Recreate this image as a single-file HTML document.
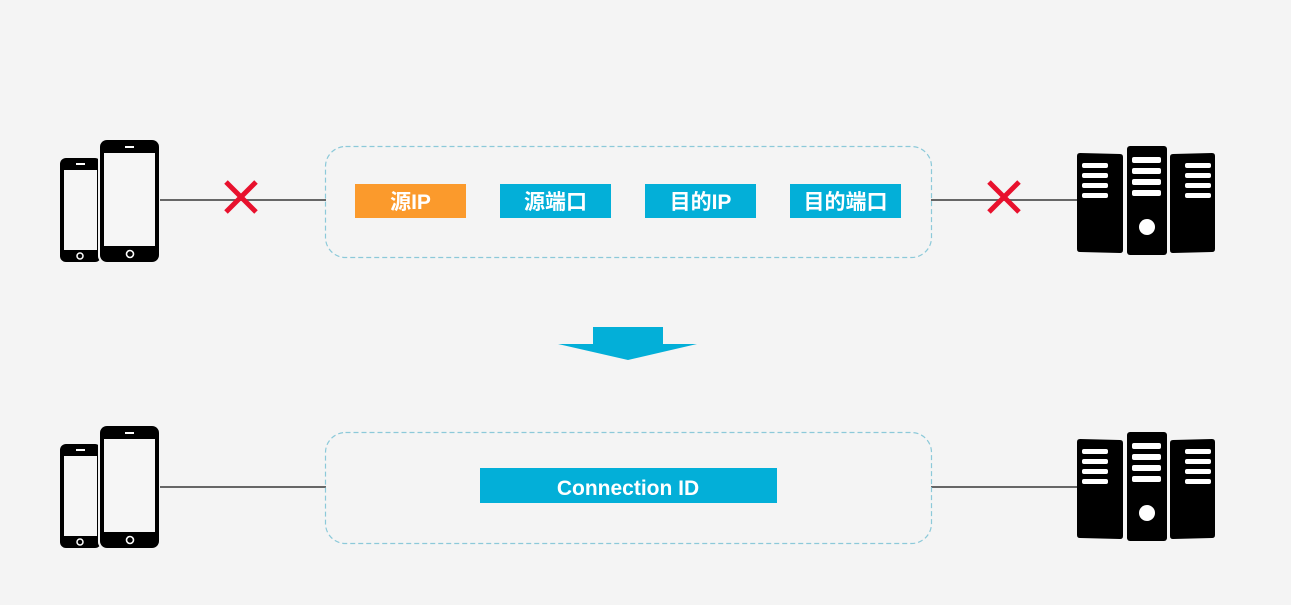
<!DOCTYPE html>
<html><head><meta charset="utf-8"><style>
html,body{margin:0;padding:0;background:#f4f4f4;}
svg{display:block}
text{font-family:"Liberation Sans","Noto Sans CJK SC",sans-serif;fill:#fff;font-weight:bold}
</style></head><body>
<svg width="1291" height="605" viewBox="0 0 1291 605" xmlns="http://www.w3.org/2000/svg">
<defs>
<g id="phones">
  <rect x="60" y="158" width="41" height="104" rx="6" fill="#000"/>
  <rect x="64" y="170" width="33" height="80" fill="#f6f6f6"/>
  <rect x="76" y="163" width="9" height="2" fill="#fff"/>
  <circle cx="80" cy="256" r="3" fill="none" stroke="#fff" stroke-width="1.5"/>
  <rect x="98" y="140" width="62" height="123" rx="7" fill="#f4f4f4"/>
  <rect x="100" y="140" width="59" height="122" rx="7" fill="#000"/>
  <rect x="104" y="153" width="51" height="93" fill="#f6f6f6"/>
  <rect x="125" y="146" width="9" height="2" fill="#fff"/>
  <circle cx="130" cy="254" r="3.5" fill="none" stroke="#fff" stroke-width="1.6"/>
</g>
<g id="servers">
  <path d="M1077 156 Q1077 153 1080 153 L1120 154 Q1123 154 1123 157 L1123 250 Q1123 253 1120 253 L1080 252 Q1077 252 1077 249 Z" fill="#000"/>
  <rect x="1127" y="146" width="40" height="109" rx="3" fill="#000"/>
  <path d="M1170 157 Q1170 154 1173 154 L1212 153 Q1215 153 1215 156 L1215 249 Q1215 252 1212 252 L1173 253 Q1170 253 1170 250 Z" fill="#000"/>
  <g fill="#fff">
    <rect x="1082" y="163" width="26" height="5" rx="2"/>
    <rect x="1082" y="173" width="26" height="5" rx="2"/>
    <rect x="1082" y="183" width="26" height="5" rx="2"/>
    <rect x="1082" y="193" width="26" height="5" rx="2"/>
    <rect x="1132" y="157" width="29" height="6" rx="2"/>
    <rect x="1132" y="168" width="29" height="6" rx="2"/>
    <rect x="1132" y="179" width="29" height="6" rx="2"/>
    <rect x="1132" y="190" width="29" height="6" rx="2"/>
    <circle cx="1147" cy="227" r="8"/>
    <rect x="1185" y="163" width="26" height="5" rx="2"/>
    <rect x="1185" y="173" width="26" height="5" rx="2"/>
    <rect x="1185" y="183" width="26" height="5" rx="2"/>
    <rect x="1185" y="193" width="26" height="5" rx="2"/>
  </g>
</g>
</defs>

<!-- top row -->
<line x1="158" y1="200" x2="326" y2="200" stroke="#666" stroke-width="2"/>
<line x1="931" y1="200" x2="1078" y2="200" stroke="#666" stroke-width="2"/>
<use href="#phones"/>
<use href="#servers"/>
<rect x="325.5" y="146.5" width="606" height="111" rx="20" fill="none" stroke="#8cc9d9" stroke-width="1.2" stroke-dasharray="5,3"/>
<g stroke="#e8112d" stroke-width="5">
  <line x1="226" y1="182" x2="256" y2="212"/><line x1="256" y1="182" x2="226" y2="212"/>
  <line x1="989" y1="182" x2="1019" y2="212"/><line x1="1019" y1="182" x2="989" y2="212"/>
</g>
<rect x="355" y="184" width="111" height="34" fill="#fb9a2c"/>
<rect x="500" y="184" width="111" height="34" fill="#03afd8"/>
<rect x="645" y="184" width="111" height="34" fill="#03afd8"/>
<rect x="790" y="184" width="111" height="34" fill="#03afd8"/>
<text x="410.5" y="209" font-size="21" text-anchor="middle">源IP</text>
<text x="555.5" y="209" font-size="21" text-anchor="middle">源端口</text>
<text x="700.5" y="209" font-size="21" text-anchor="middle">目的IP</text>
<text x="845.5" y="209" font-size="21" text-anchor="middle">目的端口</text>

<!-- arrow -->
<rect x="593" y="327" width="70" height="18" fill="#03afd8"/>
<polygon points="558,344 697,344 628,360" fill="#03afd8"/>

<!-- bottom row -->
<line x1="158" y1="487" x2="326" y2="487" stroke="#666" stroke-width="2"/>
<line x1="931" y1="487" x2="1078" y2="487" stroke="#666" stroke-width="2"/>
<use href="#phones" transform="translate(0,286)"/>
<use href="#servers" transform="translate(0,286)"/>
<rect x="325.5" y="432.5" width="606" height="111" rx="20" fill="none" stroke="#8cc9d9" stroke-width="1.2" stroke-dasharray="5,3"/>
<rect x="480" y="468" width="297" height="35" fill="#03afd8"/>
<text x="628" y="495" font-size="21" text-anchor="middle">Connection ID</text>
</svg>
</body></html>
